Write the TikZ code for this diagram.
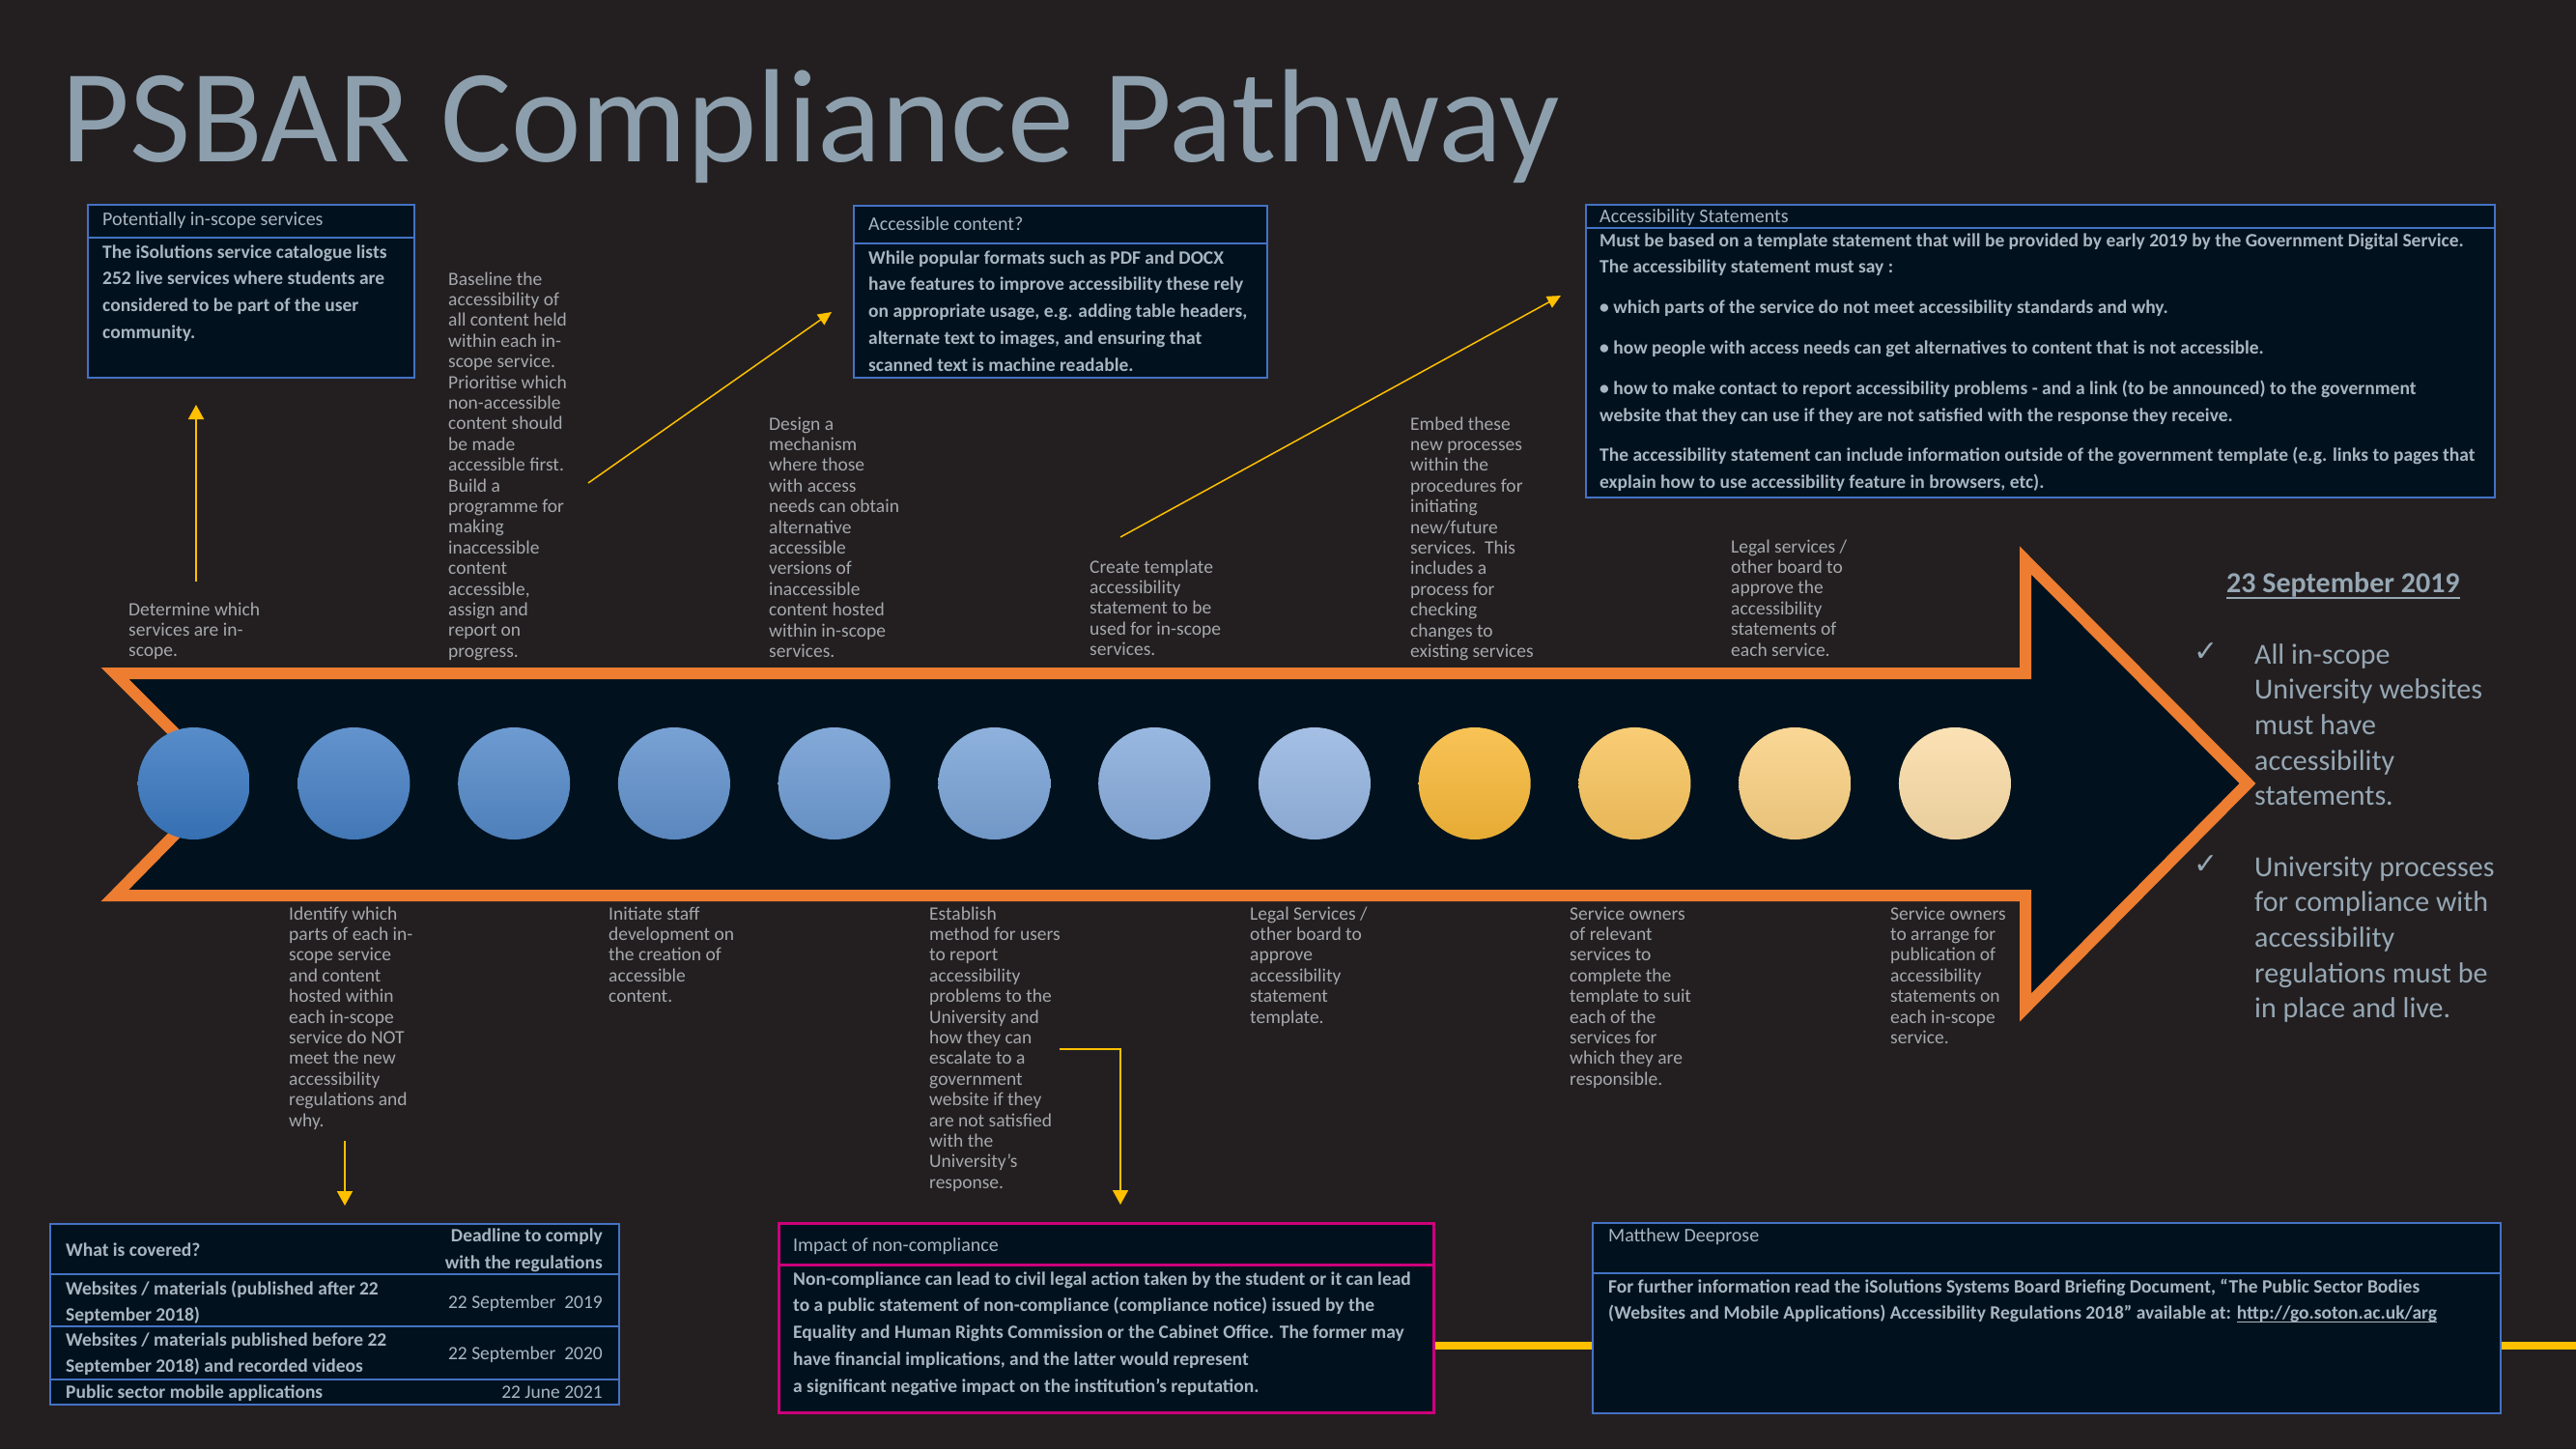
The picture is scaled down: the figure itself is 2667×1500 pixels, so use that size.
\documentclass[tikz,border=0pt]{standalone}
\usepackage{fontspec}
\setmainfont{Carlito}
\newfontfamily\symfont{DejaVu Sans}
\usetikzlibrary{arrows.meta}

\definecolor{bg}{RGB}{35,31,32}
\definecolor{navy}{RGB}{1,18,30}
\definecolor{frame}{RGB}{68,114,196}
\definecolor{orng}{RGB}{237,125,49}
\definecolor{gold}{RGB}{255,192,0}
\definecolor{impactpink}{RGB}{204,0,122}
\definecolor{titlegrey}{RGB}{141,159,173}
\definecolor{boxtext}{RGB}{168,182,194}
\definecolor{steptext}{RGB}{165,168,172}
\definecolor{sidetext}{RGB}{150,167,180}
% milestone dots: blue for the preparation steps, amber for the rollout steps
\definecolor{dot1}{RGB}{58,120,192}
\definecolor{dot2}{RGB}{71,128,196}
\definecolor{dot3}{RGB}{84,137,200}
\definecolor{dot4}{RGB}{97,145,204}
\definecolor{dot5}{RGB}{109,154,209}
\definecolor{dot6}{RGB}{122,163,214}
\definecolor{dot7}{RGB}{135,171,219}
\definecolor{dot8}{RGB}{148,180,224}
\definecolor{dot9}{RGB}{247,184,56}
\definecolor{dot10}{RGB}{248,196,93}
\definecolor{dot11}{RGB}{249,208,130}
\definecolor{dot12}{RGB}{250,220,167}

% stacked lines whose baseline is the first line
\newcommand{\ml}[1]{\begin{tabular}[t]{@{}l@{}}#1\end{tabular}}
% underline with chosen offset and thickness
\newcommand{\barunder}[3]{\setbox0\hbox{#3}\rlap{\rule[-#1]{\wd0}{#2}}\box0}

\begin{document}
\begin{tikzpicture}[x=1pt,y=-1pt,
  panel/.style={draw=frame, line width=2pt, fill=navy, anchor=north west, inner sep=0pt},
  sep/.style={draw=frame, line width=2pt},
  head/.style={anchor=base west, inner sep=0pt, text=boxtext, font=\fontsize{20}{28}\selectfont},
  body/.style={anchor=base west, inner sep=0pt, text=boxtext, font=\fontsize{19.5}{27.8}\selectfont\bfseries},
  datecell/.style={anchor=base east, inner sep=0pt, text=boxtext, font=\fontsize{19.5}{28}\selectfont},
  steplabel/.style={anchor=base west, inner sep=0pt, text=steptext, font=\fontsize{19.5}{21.4}\selectfont},
  sidelabel/.style={anchor=base west, inner sep=0pt, text=sidetext, font=\fontsize{30}{36.7}\selectfont},
  tick/.style={anchor=base west, inner sep=0pt, text=sidetext, font=\symfont\fontsize{30}{32}\selectfont},
  dot/.style={circle, minimum size=116pt, inner sep=0pt, draw=none},
  conn/.style={draw=gold, line width=2pt, -{Triangle[width=16pt,length=15pt]}},
  diag/.style={draw=gold, line width=1.5pt, -{Triangle[width=13pt,length=14pt]}}
]
\path[use as bounding box, fill=bg] (0,0) rectangle (2667,1500);

% title
\node[anchor=base west, inner sep=0pt, text=titlegrey, font=\fontsize{137.5}{150}\selectfont] (title) at (63,167) {PSBAR Compliance Pathway};

% the pathway arrow
\draw[orng, line width=12pt, fill=navy, line join=miter, miter limit=10]
  (119,697) -- (2097,697) -- (2097,580) -- (2327,811) -- (2097,1043) -- (2097,927) -- (119,927) -- (233,811) -- cycle;

% milestones
\foreach \i in {1,...,12}{
  \node[dot, top color=dot\i!85!white, bottom color=dot\i!93!black] (s\i) at ({200.7+165.75*(\i-1)},811) {};
}

% upper panels
\node[panel, minimum width=338pt, minimum height=179pt] (pis) at (90,211) {};
\draw[sep] (pis.west |- 0,246) -- (pis.east |- 0,246);
\node[head] (pisH) at (106,233) {Potentially in-scope services};
\node[body] (pisB) at (106,267) {\ml{The iSolutions service catalogue lists\\252 live services where students are\\considered to be part of the user\\community.}};

\node[panel, minimum width=428pt, minimum height=178pt] (acc) at (883,212) {};
\draw[sep] (acc.west |- 0,252) -- (acc.east |- 0,252);
\node[head] (accH) at (899,238) {Accessible content?};
\node[body] (accB) at (899,273) {\ml{While popular formats such as PDF and DOCX\\have features to improve accessibility these rely\\on appropriate usage, e.g. adding table headers,\\alternate text to images, and ensuring that\\scanned text is machine readable.}};

\node[panel, minimum width=941pt, minimum height=303pt] (ast) at (1641,211) {};
\draw[sep] (ast.west |- 0,236) -- (ast.east |- 0,236);
\node[head] (astH) at (1656,230) {Accessibility Statements};
\node[body] (astB) at (1656,255) {\ml{Must be based on a template statement that will be provided by early 2019 by the Government Digital Service.\\The accessibility statement must say :\\[14pt]%
\textbullet\ which parts of the service do not meet accessibility standards and why.\\[14pt]%
\textbullet\ how people with access needs can get alternatives to content that is not accessible.\\[14pt]%
\textbullet\ how to make contact to report accessibility problems - and a link (to be announced) to the government\\website that they can use if they are not satisfied with the response they receive.\\[14pt]%
The accessibility statement can include information outside of the government template (e.g. links to pages that\\explain how to use accessibility feature in browsers, etc).}};

% steps above the arrow
\node[steplabel] (det) at (133,637) {\ml{Determine which\\services are in-\\scope.}};
\node[steplabel] (base) at (464,295) {\ml{Baseline the\\accessibility of\\all content held\\within each in-\\scope service.\\Prioritise which\\non-accessible\\content should\\be made\\accessible first.\\Build a\\programme for\\making\\inaccessible\\content\\accessible,\\assign and\\report on\\progress.}};
\node[steplabel] (design) at (796,445) {\ml{Design a\\mechanism\\where those\\with access\\needs can obtain\\alternative\\accessible\\versions of\\inaccessible\\content hosted\\within in-scope\\services.}};
\node[steplabel] (create) at (1128,593) {\ml{Create template\\accessibility\\statement to be\\used for in-scope\\services.}};
\node[steplabel] (embed) at (1460,445) {\ml{Embed these\\new processes\\within the\\procedures for\\initiating\\new/future\\services.\ \ This\\includes a\\process for\\checking\\changes to\\existing services}};
\node[steplabel] (legalA) at (1792,572) {\ml{Legal services /\\other board to\\approve the\\accessibility\\statements of\\each service.}};

% steps below the arrow
\node[steplabel] (ident) at (299,952) {\ml{Identify which\\parts of each in-\\scope service\\and content\\hosted within\\each in-scope\\service do NOT\\meet the new\\accessibility\\regulations and\\why.}};
\node[steplabel] (staff) at (630,952) {\ml{Initiate staff\\development on\\the creation of\\accessible\\content.}};
\node[steplabel] (est) at (962,952) {\ml{Establish\\method for users\\to report\\accessibility\\problems to the\\University and\\how they can\\escalate to a\\government\\website if they\\are not satisfied\\with the\\University’s\\response.}};
\node[steplabel] (legalB) at (1294,952) {\ml{Legal Services /\\other board to\\approve\\accessibility\\statement\\template.}};
\node[steplabel] (ownA) at (1625,952) {\ml{Service owners\\of relevant\\services to\\complete the\\template to suit\\each of the\\services for\\which they are\\responsible.}};
\node[steplabel] (ownB) at (1957,952) {\ml{Service owners\\to arrange for\\publication of\\accessibility\\statements on\\each in-scope\\service.}};

% deadline summary
\node[anchor=base west, inner sep=0pt, text=sidetext, font=\fontsize{30}{36}\selectfont\bfseries] (date) at (2305,613) {23 September 2019};
\draw[sidetext, line width=2.5pt] ([yshift=-6pt]date.base west) -- ([yshift=-6pt]date.base east);
\node[tick] (tickA) at (2271,684) {✓};
\node[sidelabel] (goalA) at (2334,687) {\ml{All in-scope\\University websites\\must have\\accessibility\\statements.}};
\node[tick] (tickB) at (2271,904) {✓};
\node[sidelabel] (goalB) at (2334,907) {\ml{University processes\\for compliance with\\accessibility\\regulations must be\\in place and live.}};

% lower panels
\coordinate (railEnd) at (2667,1393);
\node[panel, minimum width=589pt, minimum height=187pt] (cover) at (51,1266) {};
\draw[sep] (cover.west |- 0,1319) -- (cover.east |- 0,1319);
\draw[sep] (cover.west |- 0,1373) -- (cover.east |- 0,1373);
\draw[sep] (cover.west |- 0,1428) -- (cover.east |- 0,1428);
\node[body] (covH) at (68,1300) {What is covered?};
\node[anchor=base east, inner sep=0pt, text=boxtext, font=\fontsize{19.5}{28}\selectfont\bfseries] (dlH) at (624,1285) {\begin{tabular}[t]{@{}r@{}}Deadline to comply\\with the regulations\end{tabular}};
\node[body] (rowA) at (68,1340) {\ml{Websites / materials (published after 22\\September 2018)}};
\node[datecell] (dateA) at (624,1354) {22 September\ \ 2019};
\node[body] (rowB) at (68,1393) {\ml{Websites / materials published before 22\\September 2018) and recorded videos}};
\node[datecell] (dateB) at (624,1407) {22 September\ \ 2020};
\node[body] (rowC) at (68,1447) {Public sector mobile applications};
\node[datecell] (dateC) at (624,1447) {22 June 2021};

\node[panel, draw=impactpink, line width=3pt, minimum width=678pt, minimum height=196pt] (impact) at (805,1265) {};
\draw[gold, line width=8pt] (railEnd -| impact.east) -- (railEnd);
\draw[impactpink, line width=3pt] (impact.west |- 0,1309) -- (impact.east |- 0,1309);
\node[head] (impH) at (821,1295) {Impact of non-compliance};
\node[body] (impB) at (821,1330) {\ml{Non-compliance can lead to civil legal action taken by the student or it can lead\\to a public statement of non-compliance (compliance notice) issued by the\\Equality and Human Rights Commission or the Cabinet Office. The former may\\have financial implications, and the latter would represent\\a significant negative impact on the institution’s reputation.}};

\node[panel, minimum width=940pt, minimum height=197pt] (contact) at (1648,1265) {};
\draw[sep] (contact.west |- 0,1318) -- (contact.east |- 0,1318);
\node[head] (conH) at (1665,1285) {Matthew Deeprose};
\node[body] (conB) at (1665,1338) {\ml{For further information read the iSolutions Systems Board Briefing Document, “The Public Sector Bodies\\(Websites and Mobile Applications) Accessibility Regulations 2018” available at: \barunder{3pt}{1.2pt}{http://go.soton.ac.uk/arg}}};

% connectors
\coordinate (detFoot) at (203,602);
\draw[conn, shorten >=27pt] (detFoot) -- (detFoot |- pis.south);
\coordinate (baseTail) at (609,500);
\coordinate (accTip) at (861,323);
\draw[diag] (baseTail) -- (accTip);
\coordinate (createTail) at (1160,556);
\coordinate (astTip) at (1616,306);
\draw[diag] (createTail) -- (astTip);
\coordinate (identFoot) at (357,1181);
\draw[conn, shorten >=18pt] (identFoot) -- (identFoot |- cover.north);
\coordinate (estOut) at (1097,1086);
\coordinate (estBend) at (1160,1086);
\draw[conn, line width=1.5pt, shorten >=18pt] (estOut) -- (estBend) -- (estBend |- impact.north);
\end{tikzpicture}
\end{document}
